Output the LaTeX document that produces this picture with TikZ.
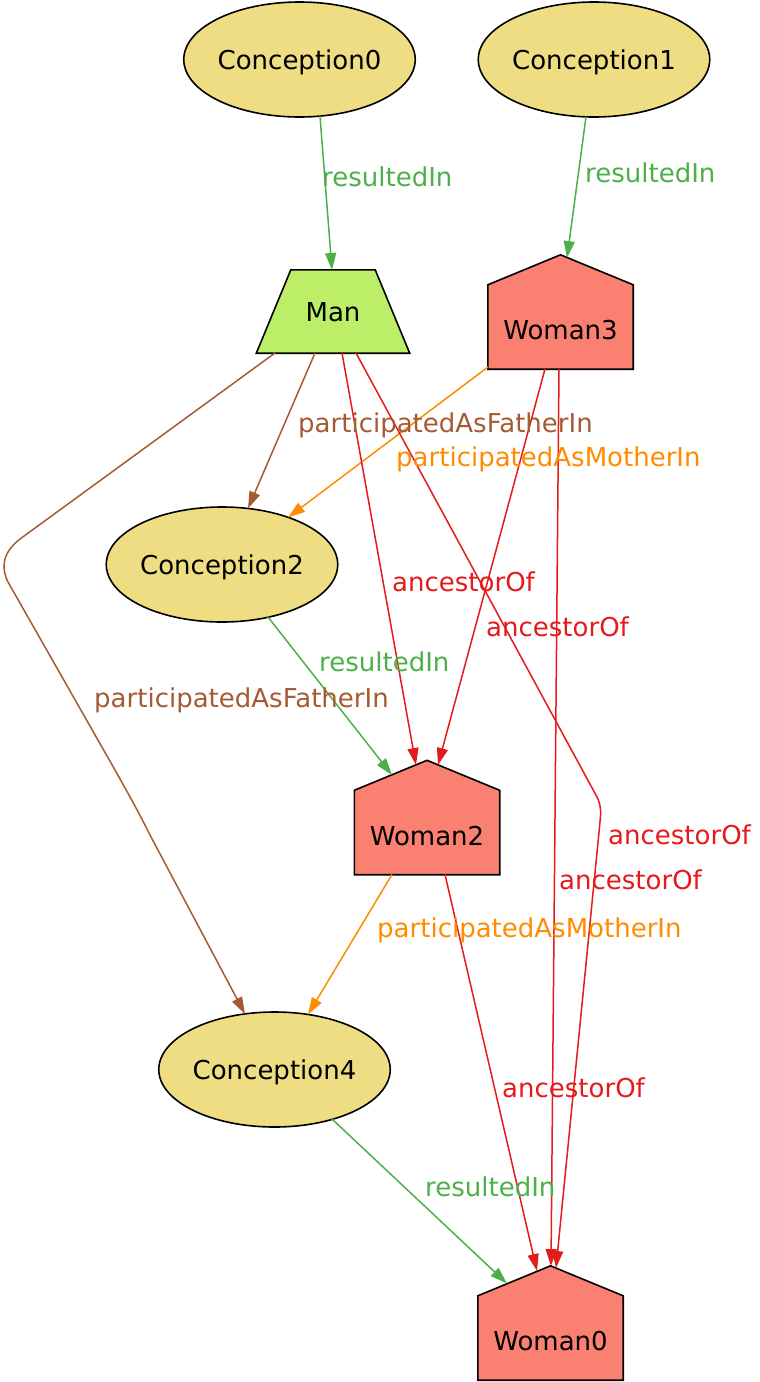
\documentclass[tikz,border=0pt]{standalone}
\usepackage{fontspec}
\setmainfont{DejaVu Sans}
\usetikzlibrary{shapes.geometric,arrows.meta,calc}
\definecolor{khaki}{HTML}{EEDD82}
\definecolor{mangreen}{HTML}{BCEE68}
\definecolor{salmonc}{HTML}{FA8072}
\definecolor{cgreen}{HTML}{4DAF4A}
\definecolor{cbrown}{HTML}{A65A32}
\definecolor{corange}{HTML}{FF8C00}
\definecolor{cred}{HTML}{E41A1C}
\pgfdeclarelayer{background}
\pgfsetlayers{background,main}
\tikzset{
  every node/.style={font=\fontsize{26}{31}\selectfont, text height=19pt, text depth=0pt},
  concept/.style={ellipse, draw=black, line width=1.6pt, fill=khaki, minimum width=227pt, minimum height=115pt, inner sep=0pt},
  womanbody/.style={rectangle, inner sep=0pt, minimum width=145pt, minimum height=84pt, text height=25pt},
  manbody/.style={rectangle, inner sep=0pt, minimum width=153pt, minimum height=83pt},
  womanshape/.style={draw=black, line width=1.6pt, fill=salmonc, line join=miter},
  manshape/.style={draw=black, line width=1.6pt, fill=mangreen, line join=miter},
  elabel/.style={anchor=west, inner sep=0pt},
  conn/.style={line width=1.5pt, -{Triangle[length=17pt,width=11pt]}},
  res/.style={conn, draw=cgreen},
  fath/.style={conn, draw=cbrown},
  moth/.style={conn, draw=corange},
  anc/.style={conn, draw=cred},
}
\begin{document}
\begin{tikzpicture}[x=1pt, y=-1pt]
\useasboundingbox (0,0) rectangle (760,1382);
% nodes
\node[concept] (c0) at (299.5,59.5) {Conception0};
\node[concept] (c1) at (594,59.5) {Conception1};
\node[manbody] (man) at (333,311.5) {Man};
\node[womanbody] (w3) at (560.5,327) {Woman3};
\node[concept] (c2) at (222,564.5) {Conception2};
\node[womanbody] (w2) at (427,832.5) {Woman2};
\node[concept] (c4) at (274.5,1069.5) {Conception4};
\node[womanbody] (w0) at (550.5,1338) {Woman0};
\begin{pgfonlayer}{background}
\draw[manshape] (man.south west) -- (man.south east) -- ($(man.north east)+(-34.5,0)$) -- ($(man.north west)+(34.5,0)$) -- cycle;
\foreach \w in {w3,w2,w0}{
  \draw[womanshape] (\w.south west) -- (\w.north west) -- ($(\w.north)+(0,-30)$) -- (\w.north east) -- (\w.south east) -- cycle;
}
\end{pgfonlayer}
% connectors
\draw[res] ($(c0)+(20.5,56.5)$) -- ($(man)+(-1,-41.5)$);
\draw[res] ($(c1)+(-8,57.3)$) -- ($(w3)+(6.5,-69)$);
\draw[fath] ($(man)+(-18,41.5)$) -- ($(c2)+(26,-56)$);
\draw[moth] ($(w3)+(-72.5,40)$) -- ($(c2)+(66,-47)$);
\draw[fath] ($(man)+(-58,41.5)$) -- (20,539) .. controls (2,553) and (1,568) .. (8,582) -- (115,770) .. controls (133,802) and (140,815) .. (150,835) -- ($(c4)+(-29.5,-55.5)$);
\draw[anc] ($(man)+(9,41.5)$) -- ($(w2)+(-11,-67.5)$);
\draw[anc] ($(man)+(23,41.5)$) -- (597,797) .. controls (601,805) and (601,812) .. (600,822) -- ($(w0)+(5.5,-70)$);
\draw[anc] ($(w3)+(-15.5,42)$) -- ($(w2)+(11,-67.5)$);
\draw[anc] ($(w3)+(-1.5,42)$) -- ($(w0)+(0.5,-72)$);
\draw[res] ($(c2)+(46,52.5)$) -- ($(w2)+(-35,-57.5)$);
\draw[moth] ($(w2)+(-35,42)$) -- ($(c4)+(33.5,-55)$);
\draw[anc] ($(w2)+(18,42)$) -- ($(w0)+(-13.5,-67)$);
\draw[res] ($(c4)+(57.5,49.5)$) -- ($(w0)+(-43.5,-54.5)$);
% labels
\node[elabel, text=cgreen] (l1) at (322,177) {resultedIn};
\node[elabel, text=cgreen] (l2) at (585,173) {resultedIn};
\node[elabel, text=cbrown] (l3) at (298,423) {participatedAsFatherIn};
\node[elabel, text=corange] (l4) at (396,457) {participatedAsMotherIn};
\node[elabel, text=cbrown] (l5) at (94,698) {participatedAsFatherIn};
\node[elabel, text=cred] (l6) at (392,582) {ancestorOf};
\node[elabel, text=cred] (l7) at (486,627) {ancestorOf};
\node[elabel, text=cred] (l8) at (608,835) {ancestorOf};
\node[elabel, text=cred] (l9) at (559,880) {ancestorOf};
\node[elabel, text=cgreen] (l10) at (319,662) {resultedIn};
\node[elabel, text=corange] (l11) at (377,928) {participatedAsMotherIn};
\node[elabel, text=cred] (l12) at (502,1088) {ancestorOf};
\node[elabel, text=cgreen] (l13) at (425,1187) {resultedIn};
\end{tikzpicture}
\end{document}
